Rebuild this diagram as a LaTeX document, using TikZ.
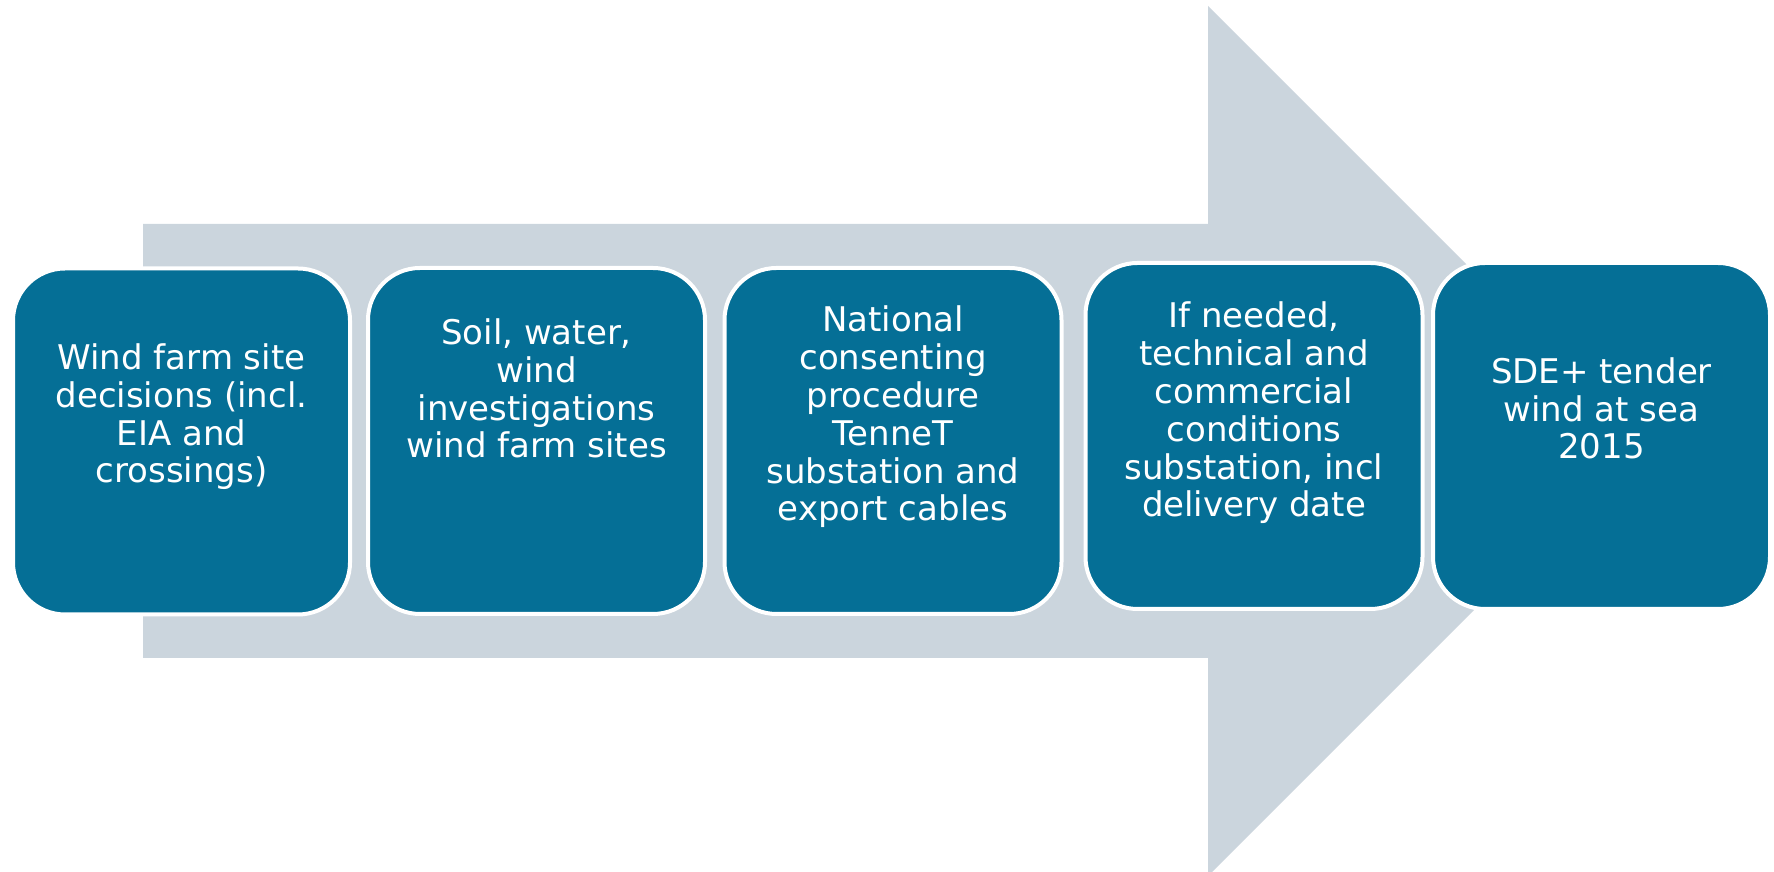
\documentclass[tikz,border=0pt]{standalone}
\usepackage{fontspec}
\setmainfont{DejaVu Sans}
\definecolor{arrowgray}{HTML}{CBD5DD}
\definecolor{stepblue}{HTML}{056F96}
\tikzset{
 stepbox/.style={draw=white,line width=2pt,fill=stepblue,rounded corners=26pt,
   minimum width=168.5pt,minimum height=173pt,inner sep=0pt},
 steptext/.style={anchor=base,align=center,text=white,inner sep=0pt,
   font=\fontsize{17}{18.9}\selectfont},
}
\begin{document}
\begin{tikzpicture}[x=.5pt,y=.5pt,line join=round]
 \useasboundingbox (0,0) rectangle (1774,872);
 % big arrow behind the steps
 \fill[arrowgray]
 (143,214)--(1208,214)--(1208,-4)--(1643,431)--(1208,866)--(1208,648)--(143,648)--cycle;
 % steps
 \node[stepbox] (b1) at (181.5,430.5) {};
 \node[stepbox] (b2) at (536.5,431) {};
 \node[stepbox] (b3) at (893,431) {};
 \node[stepbox] (b4) at (1254,436) {};
 \node[stepbox] (b5) at (1601.5,436) {};
 % texts, placed by the baseline of the last line
 \node[steptext] (t1) at (181.5,389) {Wind farm site\\decisions (incl.\\EIA and\\crossings)};
 \node[steptext] (t2) at (536.5,414) {Soil, water,\\wind\\investigations\\wind farm sites};
 \node[steptext] (t3) at (893,351) {National\\consenting\\procedure\\TenneT\\substation and\\export cables};
 \node[steptext] (t4) at (1254,355) {If needed,\\technical and\\commercial\\conditions\\substation, incl\\delivery date};
 \node[steptext] (t5) at (1601.5,413) {SDE+ tender\\wind at sea\\2015};
\end{tikzpicture}
\end{document}
